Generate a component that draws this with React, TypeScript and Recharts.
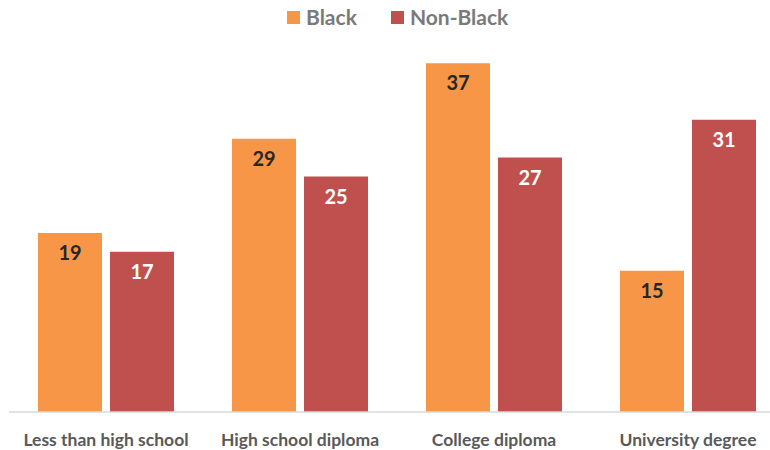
import React from "react";
import { Bar, BarChart, LabelList, XAxis, YAxis } from "recharts";

const categories = [
  "Less than high school",
  "High school diploma",
  "College diploma",
  "University degree",
];
const blackValues = [19, 29, 37, 15];
const nonBlackValues = [17, 25, 27, 31];

const data = categories.map((name, i) => ({
  name,
  black: blackValues[i],
  nonBlack: nonBlackValues[i],
}));

const FONT = "Lato, 'Open Sans', sans-serif";

const legendItems = [
  { label: "Black", color: "#F79646" },
  { label: "Non-Black", color: "#C0504D" },
];

function TopLegend() {
  return (
    <div
      style={{
        position: "absolute",
        top: 4,
        left: 287,
        display: "flex",
        gap: 34,
        fontFamily: FONT,
        fontWeight: 700,
        fontSize: 21,
        color: "#7a7a7a",
        lineHeight: "26px",
      }}
    >
      {legendItems.map((it) => (
        <div key={it.label} style={{ display: "flex", alignItems: "center", gap: 6 }}>
          <span style={{ width: 13, height: 13, background: it.color, display: "inline-block" }} />
          <span>{it.label}</span>
        </div>
      ))}
    </div>
  );
}

function CategoryTick({ x, y, payload }: any) {
  return (
    <text
      x={x}
      y={y + 26}
      textAnchor="middle"
      fontFamily={FONT}
      fontWeight={700}
      fontSize={17.5}
      fill="#595959"
    >
      {payload.value}
    </text>
  );
}

export default function App() {
  return (
    <div
      style={{
        position: "fixed",
        left: 0,
        top: 0,
        width: 770,
        height: 450,
        overflow: "hidden",
        background: "#fff",
      }}
    >
      <BarChart
        width={800}
        height={450}
        data={data}
        margin={{ top: 35, right: 15, bottom: 0, left: 9 }}
        barSize={64}
        barGap={8}
      >
        <XAxis
          dataKey="name"
          height={38}
          tickLine={false}
          axisLine={{ stroke: "#D9D9D9", strokeWidth: 1.5 }}
          tick={<CategoryTick />}
          interval={0}
        />
        <YAxis hide domain={[0, 40]} />
        <Bar dataKey="black" fill="#F79646" isAnimationActive={false}>
          <LabelList
            dataKey="black"
            position="insideTop"
            offset={13}
            fill="#262626"
            fontFamily={FONT}
            fontWeight={700}
            fontSize={20}
          />
        </Bar>
        <Bar dataKey="nonBlack" fill="#C0504D" isAnimationActive={false}>
          <LabelList
            dataKey="nonBlack"
            position="insideTop"
            offset={13}
            fill="#ffffff"
            fontFamily={FONT}
            fontWeight={700}
            fontSize={20}
          />
        </Bar>
      </BarChart>
      <TopLegend />
    </div>
  );
}
